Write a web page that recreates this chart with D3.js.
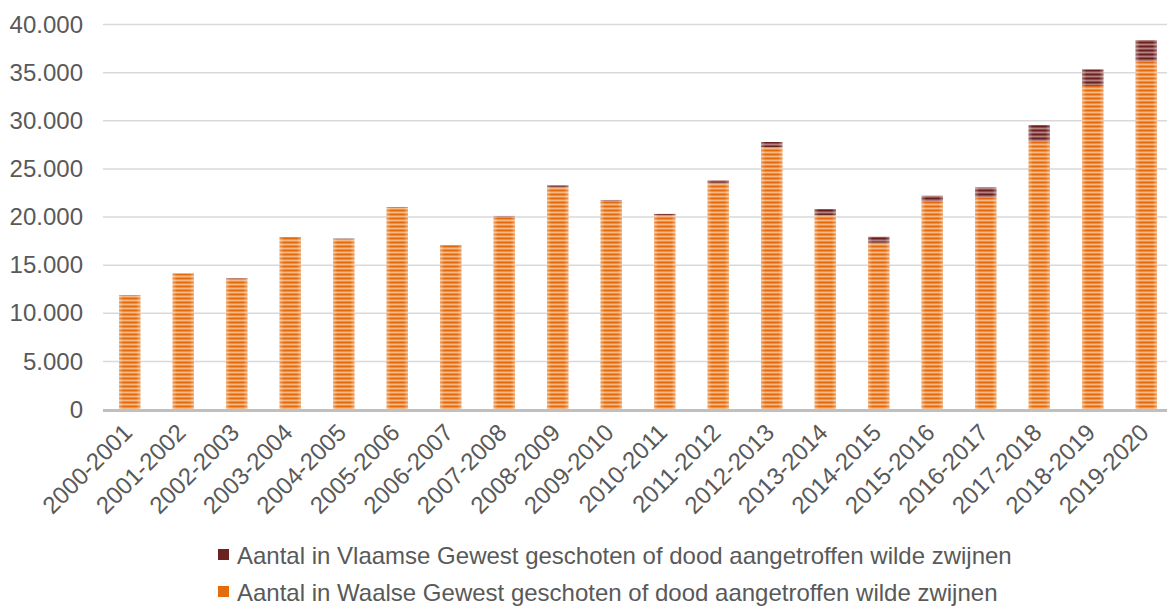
<!DOCTYPE html>
<html>
<head>
<meta charset="utf-8">
<script src="https://cdn.jsdelivr.net/npm/d3@7"></script>
<style>
  html, body { margin: 0; padding: 0; background: #ffffff; }
  svg { display: block; font-family: "Liberation Sans", Arial, sans-serif; }
</style>
</head>
<body>
<svg id="chart" width="1167" height="608"></svg>
<script>
// Jachtseizoenen
const seasons = [
  "2000-2001", "2001-2002", "2002-2003", "2003-2004", "2004-2005",
  "2005-2006", "2006-2007", "2007-2008", "2008-2009", "2009-2010",
  "2010-2011", "2011-2012", "2012-2013", "2013-2014", "2014-2015",
  "2015-2016", "2016-2017", "2017-2018", "2018-2019", "2019-2020"
];
// Waals Gewest
const walloon = [
  11850, 14080, 13600, 17870, 17700,
  20980, 17020, 20030, 23140, 21670,
  20220, 23560, 27270, 20210, 17330,
  21620, 22080, 27900, 33610, 36210
];
// Vlaams Gewest
const flemish = [
  40, 40, 40, 50, 50,
  60, 50, 80, 150, 100,
  100, 250, 520, 620, 620,
  590, 1000, 1660, 1730, 2180
];
const yTicks = [0, 5000, 10000, 15000, 20000, 25000, 30000, 35000, 40000];
const legendLabels = [
  "Aantal in Vlaamse Gewest geschoten of dood aangetroffen wilde zwijnen",
  "Aantal in Waalse Gewest geschoten of dood aangetroffen wilde zwijnen"
];

const W = 1167, H = 608;
const svg = d3.select("#chart");
const fmt = d3.formatLocale({ decimal: ",", thousands: ".", grouping: [3], currency: ["€", ""] }).format(",d");

const x = d3.scaleBand().domain(seasons).range([103, 1173]).paddingInner(0.6).paddingOuter(0.3);
const y = d3.scaleLinear().domain([0, 40000]).range([409.5, 24.5]);

// Gestreepte vullingen
const defs = svg.append("defs");
function stripes(id, dark, light) {
  const p = defs.append("pattern").attr("id", id).attr("patternUnits", "userSpaceOnUse")
    .attr("width", 8).attr("height", 4).attr("y", 409.5);
  p.append("rect").attr("width", 8).attr("height", 4).attr("fill", light);
  p.append("rect").attr("width", 8).attr("height", 2).attr("fill", dark);
}
stripes("stripeOrange", "#e2690b", "#f6b882");
stripes("stripeBrown", "#67201f", "#b5817f");
const glow = defs.append("linearGradient").attr("id", "edgeGlow").attr("x1", 0).attr("x2", 1);
glow.append("stop").attr("offset", 0).attr("stop-color", "#fff").attr("stop-opacity", 0.35);
glow.append("stop").attr("offset", 0.2).attr("stop-color", "#fff").attr("stop-opacity", 0);
glow.append("stop").attr("offset", 0.8).attr("stop-color", "#fff").attr("stop-opacity", 0);
glow.append("stop").attr("offset", 1).attr("stop-color", "#fff").attr("stop-opacity", 0.35);

// Rasterlijnen
svg.append("g").selectAll("line").data(yTicks.filter(d => d > 0)).join("line")
  .attr("x1", 103).attr("x2", W)
  .attr("y1", d => y(d)).attr("y2", d => y(d))
  .attr("stroke", "#d9d9d9").attr("stroke-width", 1.5);

// Y-as
const yAxis = svg.append("g").attr("transform", "translate(83,0)")
  .call(d3.axisLeft(y).tickValues(yTicks).tickFormat(fmt).tickSize(0).tickPadding(0));
yAxis.select(".domain").remove();
yAxis.selectAll("text").attr("fill", "#595959").style("font-size", "24px")
  .style("font-family", "'Liberation Sans', Arial, sans-serif");

// Gestapelde staven
const rows = seasons.map((s, i) => ({ season: s, walloon: walloon[i], flemish: flemish[i] }));
const stack = d3.stack().keys(["walloon", "flemish"])(rows);
const fills = { walloon: "url(#stripeOrange)", flemish: "url(#stripeBrown)" };

const layers = svg.append("g").selectAll("g").data(stack).join("g");
layers.selectAll("rect.bar").data(d => d.map(v => ({ v, key: d.key }))).join("rect")
  .attr("class", "bar")
  .attr("x", d => x(d.v.data.season))
  .attr("width", x.bandwidth())
  .attr("y", d => y(d.v[1]))
  .attr("height", d => y(d.v[0]) - y(d.v[1]))
  .attr("fill", d => fills[d.key]);
layers.selectAll("rect.glow").data(d => d.map(v => ({ v, key: d.key }))).join("rect")
  .attr("class", "glow")
  .attr("x", d => x(d.v.data.season))
  .attr("width", x.bandwidth())
  .attr("y", d => y(d.v[1]))
  .attr("height", d => y(d.v[0]) - y(d.v[1]))
  .attr("fill", "url(#edgeGlow)");

// X-as
svg.append("line").attr("x1", 103).attr("x2", W).attr("y1", 410.5).attr("y2", 410.5)
  .attr("stroke", "#bfbfbf").attr("stroke-width", 3);

svg.append("g").selectAll("text").data(seasons).join("text")
  .attr("transform", d => `translate(${x(d) + x.bandwidth() / 2 + 4},${434}) rotate(-45)`)
  .attr("text-anchor", "end")
  .attr("fill", "#595959")
  .style("font-size", "24px")
  .text(d => d);

// Legenda
const legendColors = ["#6b2221", "#e46c0a"];
const lg = svg.append("g").selectAll("g").data(legendLabels).join("g")
  .attr("transform", (d, i) => `translate(218,${555 + i * 37})`);
lg.append("rect").attr("x", 0).attr("y", -6).attr("width", 11).attr("height", 11)
  .attr("fill", (d, i) => legendColors[i]);
lg.append("text").attr("x", 19).attr("y", 9).attr("fill", "#595959")
  .style("font-size", "24px").text(d => d);
</script>
</body>
</html>
